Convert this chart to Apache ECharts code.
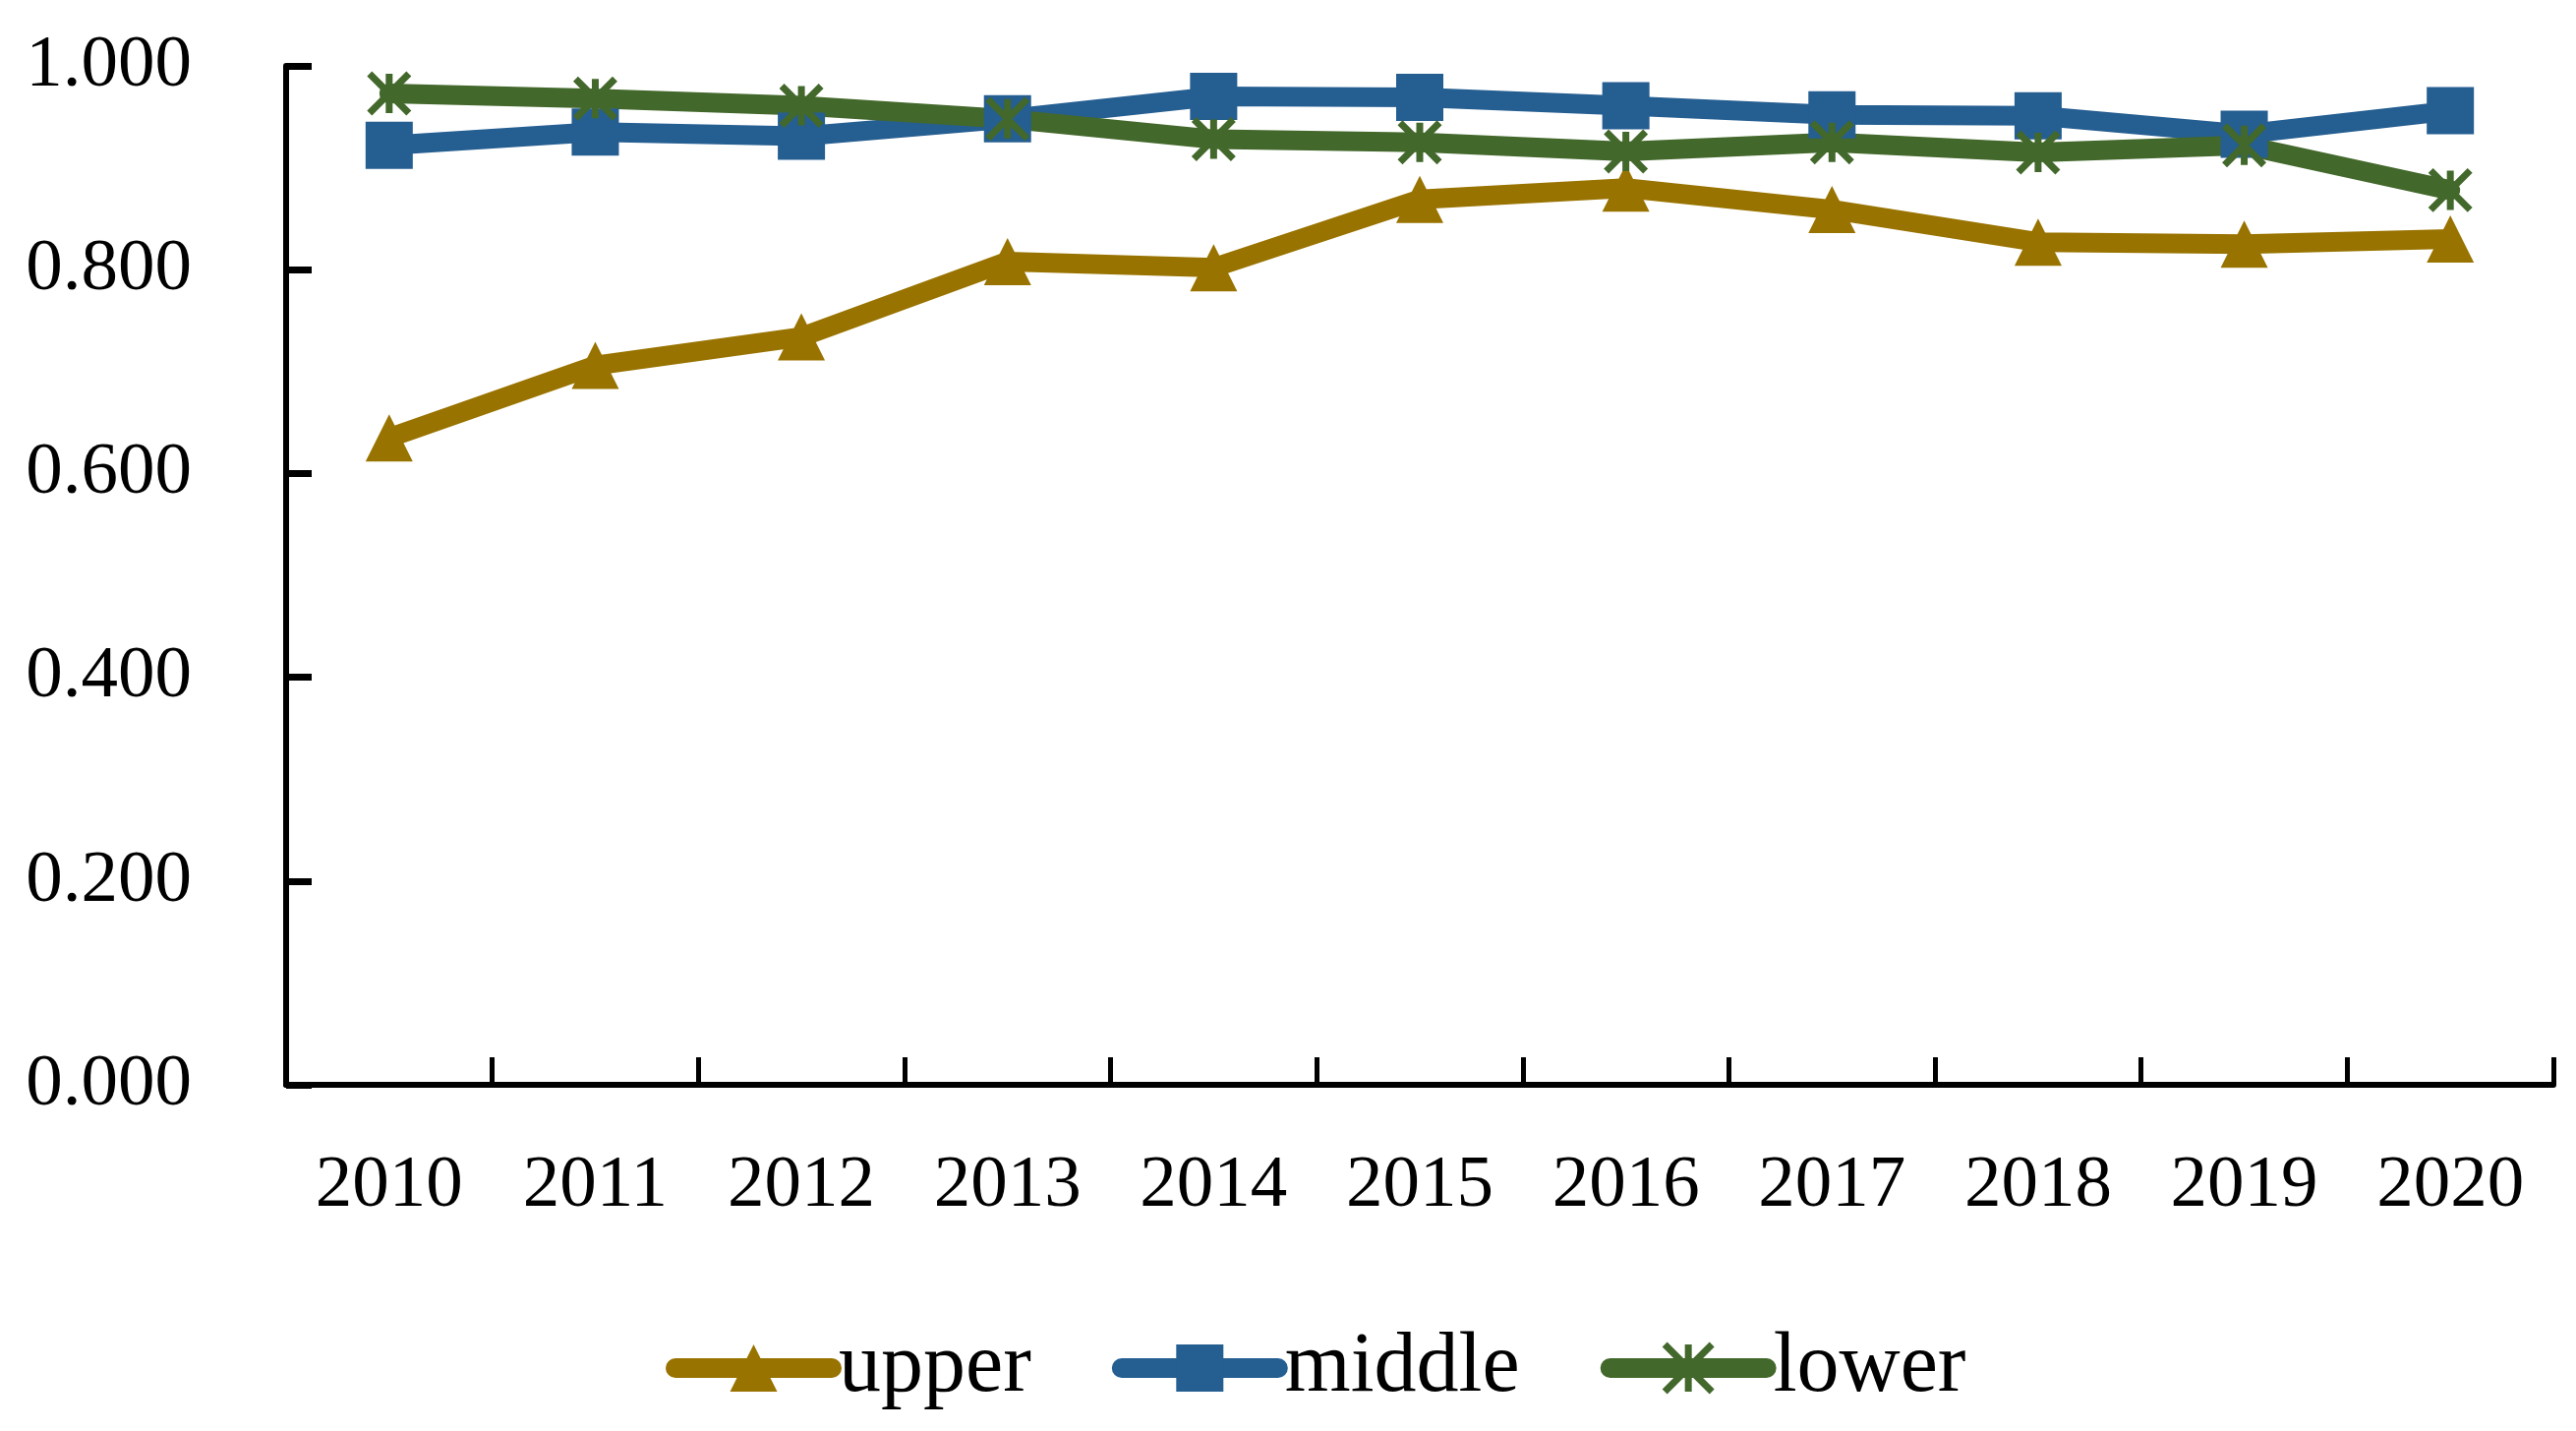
<!DOCTYPE html>
<html>
<head>
<meta charset="utf-8">
<script src="https://cdn.jsdelivr.net/npm/echarts@6/dist/echarts.min.js"></script>
<style>
html,body{margin:0;padding:0;background:#fff;}
#c{width:2620px;height:1455px;}
</style>
</head>
<body>
<div id="c"></div>
<script>
const categories = ['2010','2011','2012','2013','2014','2015','2016','2017','2018','2019','2020'];
const upper  = [0.635, 0.706, 0.734, 0.808, 0.802, 0.869, 0.880, 0.859, 0.827, 0.825, 0.830];
const middle = [0.922, 0.935, 0.931, 0.948, 0.970, 0.969, 0.961, 0.952, 0.951, 0.933, 0.956];
const lower  = [0.973, 0.968, 0.961, 0.948, 0.928, 0.925, 0.916, 0.925, 0.915, 0.922, 0.878];
const yTicks = [0, 0.2, 0.4, 0.6, 0.8, 1.0];

const FONT = 'Liberation Serif';
const asterisk = 'path://M0,0L10,10M10,0L0,10M5,0L5,10';

const chart = echarts.init(document.getElementById('c'));
chart.setOption({
  backgroundColor: '#ffffff',
  animation: false,
  grid: {left: 291, right: 23, top: 67, bottom: 352, containLabel: false},
  xAxis: {
    type: 'category',
    data: categories,
    boundaryGap: true,
    axisLine: {lineStyle: {color: '#000', width: 6}},
    axisTick: {show: true, inside: true, length: 28, lineStyle: {color: '#000', width: 5}},
    axisLabel: {color: '#000', fontFamily: FONT, fontSize: 75, margin: 66}
  },
  yAxis: {
    type: 'value',
    min: yTicks[0], max: yTicks[yTicks.length - 1], interval: 0.2,
    axisLine: {show: true, lineStyle: {color: '#000', width: 6}},
    axisTick: {show: true, inside: true, length: 26, lineStyle: {color: '#000', width: 7}},
    splitLine: {show: false},
    axisLabel: {color: '#000', fontFamily: FONT, fontSize: 75, margin: 96,
      formatter: v => v.toFixed(3)}
  },
  legend: {
    top: 1343,
    left: 672,
    itemWidth: 159,
    itemHeight: 60,
    itemGap: 82,
    lineStyle: {width: 20, cap: 'round'},
    textStyle: {color: '#000', fontFamily: FONT, fontSize: 86, padding: [0, 0, 0, 2]},
    data: [
      {name: 'upper'},
      {name: 'middle'},
      {name: 'lower', itemStyle: {borderColor: '#43682B', borderWidth: 7}}
    ]
  },
  series: [
    {name: 'upper', type: 'line', data: upper, symbol: 'triangle', symbolSize: 48,
      itemStyle: {color: '#997300'}, lineStyle: {width: 20, color: '#997300', cap: 'round'}},
    {name: 'middle', type: 'line', data: middle, symbol: 'rect', symbolSize: 48,
      itemStyle: {color: '#255E91'}, lineStyle: {width: 20, color: '#255E91', cap: 'round'}},
    {name: 'lower', type: 'line', data: lower, symbol: asterisk, symbolSize: 40,
      itemStyle: {color: '#43682B', borderColor: '#43682B', borderWidth: 7}, lineStyle: {width: 20, color: '#43682B', cap: 'round'}}
  ]
});
</script>
</body>
</html>
